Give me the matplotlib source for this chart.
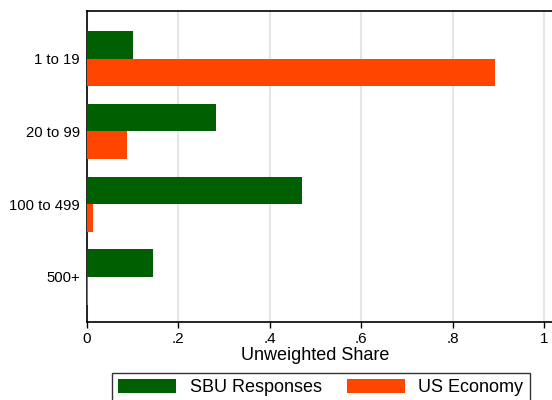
import matplotlib.pyplot as plt
import numpy as np

# Firm size classes and shares
categorias = ["1 to 19", "20 to 99", "100 to 499", "500+"]
sbu = [0.101, 0.282, 0.470, 0.144]
us_economy = [0.893, 0.088, 0.014, 0.0015]
ticks_x = [0, 0.2, 0.4, 0.6, 0.8, 1.0]
rotulos_x = ["0", ".2", ".4", ".6", ".8", "1"]

plt.rcParams["font.family"] = ["Liberation Sans", "DejaVu Sans"]

fig = plt.figure(figsize=(5.52, 4.0), dpi=100)
ax = fig.add_axes([87 / 552, 1 - 322 / 400, (552 - 87) / 552, (322 - 11) / 400])

y = np.arange(len(categorias))
h = 0.38
ax.barh(y - h / 2, sbu, height=h, color="#005f00", label="SBU Responses", zorder=3)
ax.barh(y + h / 2, us_economy, height=h, color="#ff4500", label="US Economy", zorder=3)

ax.set_ylim(len(categorias) - 1 + 0.62, -0.655)
ax.set_xlim(0, 465 / 457)
ax.set_yticks(y)
ax.set_yticklabels(categorias, fontsize=10.7)
ax.set_xticks(ticks_x)
ax.set_xticklabels(rotulos_x, fontsize=11)
ax.tick_params(axis="y", length=0, pad=5)
ax.tick_params(axis="x", length=4, width=1, pad=3)
ax.grid(axis="x", color="#e6e6e6", linewidth=1.5, zorder=0)

ax.spines["right"].set_visible(False)
for s in ["left", "bottom", "top"]:
    ax.spines[s].set_linewidth(1.2)

ax.set_xlabel("Unweighted Share", fontsize=13, labelpad=1)
lbl = ax.xaxis.label
lbl.set_position((((87 + 544) / 2 - 87) / 465, 0))

# Legenda abaixo do gráfico
leg = ax.legend(loc="upper left", bbox_to_anchor=(112 / 552, 1 - 373 / 400),
                bbox_transform=fig.transFigure, ncol=2, frameon=True,
                fancybox=False, edgecolor="black", fontsize=13,
                handlelength=3.2, handleheight=0.8, handletextpad=0.75,
                columnspacing=1.4, borderpad=0.35, borderaxespad=0)
leg.get_frame().set_linewidth(1.0)

fig.savefig("out.png", dpi=100)
